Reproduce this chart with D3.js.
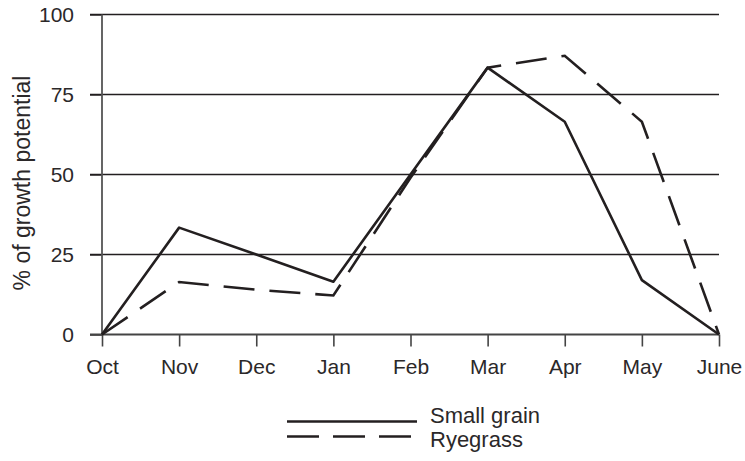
<!DOCTYPE html>
<html>
<head>
<meta charset="utf-8">
<script src="https://cdn.jsdelivr.net/npm/d3@7"></script>
<style>
    body { margin: 0; background: #fff; }
    text { font-family: "Liberation Sans", Arial, sans-serif; fill: #2b2829; }
</style>
</head>
<body>
<div id="chart"></div>
<script>
    const months = ["Oct", "Nov", "Dec", "Jan", "Feb", "Mar", "Apr", "May", "June"]
    const smallGrain = [0, 33.4, 25, 16.5, 50, 83.4, 66.5, 17, 0]
    const ryegrass = [0, 16.4, 14, 12.2, 49, 83.4, 87.1, 66.5, 0]
    const yTicks = [0, 25, 50, 75, 100]
    const seriesNames = ["Small grain", "Ryegrass"]

    const margin = { top: 14.5, right: 26, bottom: 126.5, left: 102 }
    const width = 745 - margin.left - margin.right,
        height = 461 - margin.top - margin.bottom;

    const svg = d3.select("#chart")
        .append("svg")
        .attr("width", 745)
        .attr("height", 461)
        .append("g")
        .attr("transform", "translate(" + margin.left + "," + margin.top + ")")

    const x = d3.scalePoint().domain(months).range([0, width])
    const y = d3.scaleLinear().domain([0, 100]).range([height, 0])

    // horizontal grid lines (ticks stick out to the left)
    svg.selectAll(".grid")
        .data(yTicks.filter(d => d > 0))
        .enter().append("line")
        .attr("x1", -12)
        .attr("x2", width)
        .attr("y1", d => y(d))
        .attr("y2", d => y(d))
        .attr("stroke", "#231f20")
        .attr("stroke-width", 1.4)

    // y axis
    const yAxis = d3.axisLeft(y).tickValues(yTicks).tickSize(12).tickPadding(16)
    const yg = svg.append("g").call(yAxis)
    yg.select(".domain").remove()
    yg.selectAll(".tick line").attr("stroke", "#231f20").attr("stroke-width", 1.4)
    yg.selectAll("text").style("font-size", "21px").attr("fill", null)
    svg.append("line")
        .attr("x1", 0).attr("x2", 0)
        .attr("y1", 0).attr("y2", height)
        .attr("stroke", "#555").attr("stroke-width", 1.8)

    // x axis
    const xAxis = d3.axisBottom(x).tickSize(12).tickPadding(13)
    const xg = svg.append("g")
        .attr("transform", "translate(0," + height + ")")
        .call(xAxis)
    xg.select(".domain").remove()
    xg.selectAll(".tick line").attr("stroke", "#444").attr("stroke-width", 1.6)
    xg.selectAll("text").style("font-size", "21px").attr("fill", null)
    svg.append("line")
        .attr("x1", -12).attr("x2", width)
        .attr("y1", height).attr("y2", height)
        .attr("stroke", "#444").attr("stroke-width", 1.8)

    svg.append("text")
        .attr("transform", "rotate(-90)")
        .attr("x", -(183 - margin.top))
        .attr("y", 22 - margin.left + 8)
        .attr("text-anchor", "middle")
        .style("font-size", "23px")
        .text("% of growth potential")

    const line = d3.line()
        .x((d, i) => x(months[i]))
        .y(d => y(d))

    svg.append("path")
        .datum(smallGrain)
        .attr("fill", "none")
        .attr("stroke", "#231f20")
        .attr("stroke-width", 2.6)
        .attr("stroke-linejoin", "round")
        .attr("d", line)

    svg.append("path")
        .datum(ryegrass)
        .attr("fill", "none")
        .attr("stroke", "#231f20")
        .attr("stroke-width", 2.6)
        .attr("stroke-dasharray", "31,15")
        .attr("d", line)

    // legend
    const legend = svg.append("g")
        .attr("transform", "translate(" + (287 - margin.left) + "," + (421.5 - margin.top) + ")")

    legend.selectAll("line")
        .data(seriesNames)
        .enter().append("line")
        .attr("x1", 0)
        .attr("x2", 130)
        .attr("y1", (d, i) => i * 15)
        .attr("y2", (d, i) => i * 15)
        .attr("stroke", "#231f20")
        .attr("stroke-width", 2.4)
        .attr("stroke-dasharray", (d, i) => i === 0 ? null : "32,14")

    legend.selectAll("text")
        .data(seriesNames)
        .enter().append("text")
        .attr("x", 143)
        .attr("y", (d, i) => i * 24 + 1.5)
        .style("font-size", "22px")
        .text(d => d)
</script>
</body>
</html>
